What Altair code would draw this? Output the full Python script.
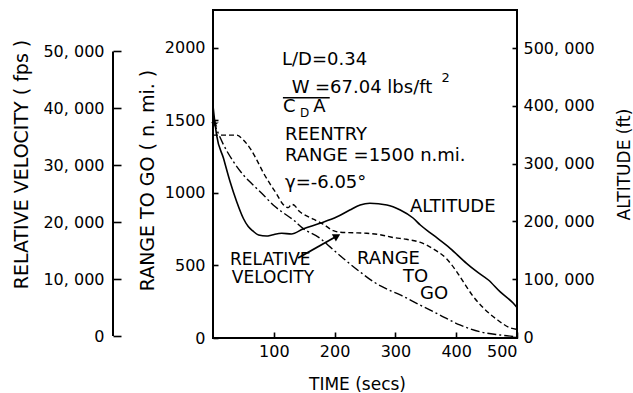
import altair as alt
import pandas as pd

# ---------------- data ----------------
alt_time = [0, 3, 6, 17, 28, 39, 50, 58, 66, 75, 88, 97, 113, 129, 148, 176, 204, 225,
            242, 258, 286, 308, 329, 341, 362, 390, 417, 434, 453, 472, 494, 500]
alt_ft = [400000, 372000, 349000, 310000, 269000, 234000, 205000, 191000, 183000, 176500,
          174700, 176500, 179400, 178200, 186900, 196700, 208000, 219700, 228400, 231300,
          228400, 219700, 205900, 193800, 176500, 153500, 127500, 113000, 98600, 78400,
          58300, 51000]

vel_time = [0, 20, 39, 50, 61, 72, 83, 94, 105, 114, 124, 129, 135, 141, 149, 165, 181,
            198, 209, 230, 253, 275, 297, 318, 340, 362, 384, 401, 415, 426, 445, 467,
            489, 500]
vel_fps = [35300, 35300, 35300, 34430, 32990, 30950, 28650, 26700, 24900, 23300, 22570,
           23140, 22860, 22000, 21400, 20540, 19670, 18520, 18230, 18150, 18060, 17800,
           17300, 17000, 16490, 15330, 13590, 11280, 8970, 7240, 4910, 2900, 1440, 1160]

rng_time = [0, 17, 33, 50, 66, 83, 99, 113, 132, 148, 176, 192, 214, 240, 265, 290, 308,
            340, 373, 406, 439, 472, 500]
rng_nmi = [1500, 1335, 1220, 1124, 1055, 986, 917, 871, 815, 756, 688, 630, 550, 462,
           385, 330, 297, 228, 159, 90, 43, 21, 8]

time_ticks = [100, 200, 300, 400, 500]
range_ticks = [0, 500, 1000, 1500, 2000]
vel_ticks = [0, 10000, 20000, 30000, 40000, 50000]
alt_ticks = [0, 100000, 200000, 300000, 400000, 500000]

note_text = ["L/D=0.34", "W", "=67.04 lbs/ft", "2", "C", "D", "A", "REENTRY",
             "RANGE =1500 n.mi.", "γ=-6.05°", "ALTITUDE", "RELATIVE", "VELOCITY",
             "RANGE", "TO", "GO"]
note_t = [113.5, 129.4, 167.8, 376, 115, 143, 165, 118.4, 118.4, 118.4, 324, 28, 31,
          237, 312.5, 340.5]
note_r = [1917, 1724, 1724, 1790, 1590, 1552, 1590, 1397, 1255, 1069, 903, 536, 412,
          544, 421, 304]
note_fs = [18, 18, 18, 13, 18, 12, 18, 18, 18, 18, 18, 17, 17, 18, 18, 18]

bar_t = [115, 192]          # fraction bar under W
bar_r = [1657, 1657]
arrow_t = [140, 204]        # arrow to the velocity curve
arrow_r = [552, 703]
start_t = [3]
start_r = [1478]
vel_axis_span = [0, 50000]

FONT = "DejaVu Sans"
INK = "#000000"

df_alt = pd.DataFrame({"t": alt_time, "h": alt_ft})
df_vel = pd.DataFrame({"t": vel_time, "v": vel_fps})
df_rng = pd.DataFrame({"t": rng_time, "r": rng_nmi})
df_note = pd.DataFrame({"t": note_t, "r": note_r, "label": note_text, "fs": note_fs})
df_bar = pd.DataFrame({"t": [bar_t[0]], "t2": [bar_t[1]], "r": [bar_r[0]], "r2": [bar_r[1]]})
df_arrow = pd.DataFrame({"t": [arrow_t[0]], "t2": [arrow_t[1]],
                         "r": [arrow_r[0]], "r2": [arrow_r[1]]})
df_head = pd.DataFrame({"t": [arrow_t[1]], "r": [arrow_r[1]]})
df_star = pd.DataFrame({"t": start_t, "r": start_r})
df_vaxis = pd.DataFrame({"v0": [vel_axis_span[0]], "v1": [vel_axis_span[1]]})

# explicit, un-niced domains: independent scales with the same domain map identically
x_scale = alt.Scale(domain=[0, 500], nice=False, zero=False)
r_scale = alt.Scale(domain=[0, 2262], nice=False, zero=False)
v_scale = alt.Scale(domain=[-347, 57292], nice=False, zero=False)
h_scale = alt.Scale(domain=[-1730, 565744], nice=False, zero=False)

sep_expr = "replace(format(datum.value, ','), ',', ', ')"

x_axis = alt.Axis(values=time_ticks, format="d", orient="bottom", offset=-6,
                  tickSize=6, labelPadding=5, domain=False, grid=False,
                  title="TIME (secs)", titleX=144, titleY=52, titleFontSize=17,
                  titleBaseline="middle", titleAlign="center")

r_axis = alt.Axis(values=range_ticks, format="d", orient="left", offset=-5,
                  tickSize=5, labelPadding=8, domain=False, grid=False,
                  title="RANGE TO GO ( n. mi. )", titleAngle=270, titleX=-71,
                  titleY=170, titleAlign="center", titleBaseline="middle",
                  titleFontSize=19)

v_axis = alt.Axis(values=vel_ticks, labelExpr=sep_expr, orient="left", offset=92,
                  tickSize=8, labelPadding=9, domain=False, grid=False,
                  title="RELATIVE VELOCITY ( fps )", titleAngle=270, titleX=-100,
                  titleY=154, titleAlign="center", titleBaseline="middle",
                  titleFontSize=19)

h_axis = alt.Axis(values=alt_ticks, labelExpr=sep_expr, orient="right", offset=-5,
                  tickSize=5, labelPadding=6, domain=False, grid=False,
                  title="ALTITUDE (ft)", titleAngle=270, titleX=112, titleY=154,
                  titleAlign="center", titleBaseline="middle", titleFontSize=17)

X = alt.X("t:Q", scale=x_scale, axis=x_axis)

# ---- range to go ----
rng_line = alt.Chart(df_rng).mark_line(
    color=INK, strokeWidth=1.4, strokeDash=[9, 3, 2, 3], interpolate="monotone"
).encode(
    x=X,
    y=alt.Y("r:Q", scale=r_scale, axis=r_axis),
)

notes = alt.Chart(df_note).mark_text(
    align="left", baseline="middle", font=FONT, color=INK
).encode(
    x=X,
    y=alt.Y("r:Q", scale=r_scale, axis=None),
    text="label:N",
    size=alt.Size("fs:Q", scale=None, legend=None),
)

bar = alt.Chart(df_bar).mark_rule(color=INK, strokeWidth=1.3).encode(
    x=X, x2="t2:Q",
    y=alt.Y("r:Q", scale=r_scale, axis=None), y2="r2:Q",
)

arrow = alt.Chart(df_arrow).mark_rule(color=INK, strokeWidth=1.8).encode(
    x=X, x2="t2:Q",
    y=alt.Y("r:Q", scale=r_scale, axis=None), y2="r2:Q",
)

head = alt.Chart(df_head).mark_point(
    shape="triangle-right", filled=True, color=INK, size=70, angle=331, opacity=1
).encode(
    x=X,
    y=alt.Y("r:Q", scale=r_scale, axis=None),
)

star_path = ("M0,-1L0.22,-0.31L0.95,-0.31L0.36,0.12L0.59,0.81L0,0.38L-0.59,0.81"
             "L-0.36,0.12L-0.95,-0.31L-0.22,-0.31Z")
star = alt.Chart(df_star).mark_point(
    shape=star_path, filled=True, color=INK, size=70, opacity=1
).encode(
    x=X,
    y=alt.Y("r:Q", scale=r_scale, axis=None),
)

# ---- velocity ----
vel_line = alt.Chart(df_vel).mark_line(
    color=INK, strokeWidth=1.4, strokeDash=[5, 3], interpolate="monotone"
).encode(
    x=X,
    y=alt.Y("v:Q", scale=v_scale, axis=v_axis),
)

vel_axis_line = alt.Chart(df_vaxis).mark_rule(color=INK, strokeWidth=2).encode(
    x=alt.value(-100),
    y=alt.Y("v0:Q", scale=v_scale, axis=None),
    y2="v1:Q",
)

# ---- altitude ----
alt_line = alt.Chart(df_alt).mark_line(
    color=INK, strokeWidth=1.6, interpolate="monotone"
).encode(
    x=X,
    y=alt.Y("h:Q", scale=h_scale, axis=h_axis),
)

chart = alt.layer(
    rng_line, vel_line, alt_line, vel_axis_line, notes, bar, arrow, head, star
).resolve_scale(
    y="independent"
).properties(
    width=304,
    height=328,
    autosize=alt.AutoSizeParams(type="none"),
    padding={"left": 213, "top": 10, "right": 116, "bottom": 55},
    background="white",
).configure_view(
    stroke=INK, strokeWidth=2
).configure_axis(
    labelFont=FONT, labelFontSize=16, labelColor=INK,
    titleFont=FONT, titleFontWeight="normal", titleColor=INK,
    tickColor=INK, tickWidth=1.6,
)

chart.save("out.html", embed_options={"renderer": "svg", "actions": False})
